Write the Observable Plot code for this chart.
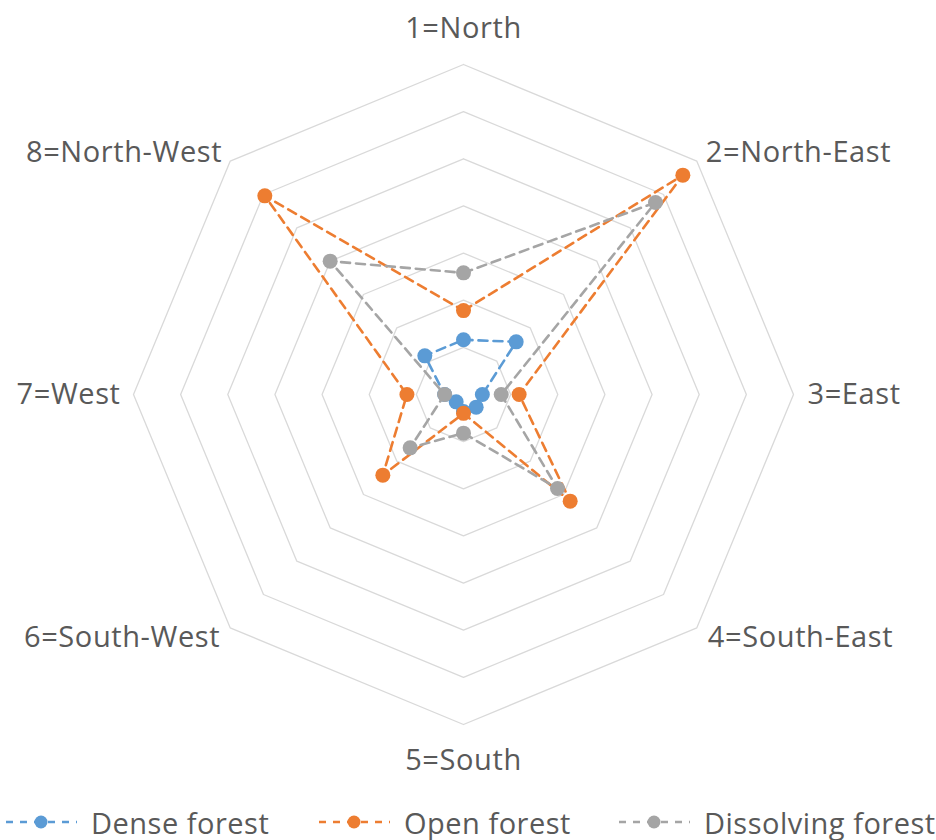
<!DOCTYPE html>
<html>
<head>
<meta charset="utf-8">
<script src="https://cdn.jsdelivr.net/npm/d3@7"></script>
<script src="https://cdn.jsdelivr.net/npm/@observablehq/plot@0.6"></script>
<style>
  html, body { margin: 0; padding: 0; background: #fff; }
  #wrap { position: relative; width: 936px; height: 840px; }
  #chart svg { display: block; }
  #legend { position: relative; width: 936px; height: 40px; font-family: "Open Sans", sans-serif; font-size: 29px; line-height: 1; letter-spacing: 0.5px; color: #595959; }
  .item { position: absolute; top: 0; height: 44px; display: flex; align-items: center; line-height: 1; }
  .item span { line-height: 1; display: block; }
  .item svg { margin-right: 14px; display: block; }
</style>
</head>
<body>
<div id="wrap">
  <div id="chart"></div>
  <div id="legend"></div>
</div>
<script>
const directions = ["1=North", "2=North-East", "3=East", "4=South-East", "5=South", "6=South-West", "7=West", "8=North-West"];
const seriesNames = ["Dense forest", "Open forest", "Dissolving forest"];
const dense = [5.8, 7.9, 2.0, 1.9, 1.8, 1.1, 2.0, 5.8];
const open = [8.9, 32.9, 5.9, 16.0, 2.0, 12.1, 6.0, 29.8];
const dissolving = [12.9, 28.8, 4.0, 14.1, 4.1, 8.0, 2.0, 20.0];
const rings = [5, 10, 15, 20, 25, 30, 35];
const colors = ["#5B9BD5", "#ED7D31", "#A5A5A5"];

const W = 936, H = 800;
const cx = 463, cy = 394, R = 330, rMax = 35;
const k = rMax / R;

const ang = i => i * Math.PI / 4;
const px = (r, i) => r * Math.sin(ang(i));
const py = (r, i) => r * Math.cos(ang(i));

// grid rings
const gridData = [];
rings.forEach(r => {
  for (let i = 0; i <= 8; i++) gridData.push({ring: r, x: px(r, i % 8), y: py(r, i % 8)});
});

const allSeries = [dense, open, dissolving];
const seriesData = allSeries.map((vals, s) => {
  const pts = vals.map((v, i) => ({series: seriesNames[s], x: px(v, i), y: py(v, i)}));
  return {line: pts.concat([pts[0]]), pts};
});

const labelData = directions.map((d, i) => ({label: d, x: px(rMax, i), y: py(rMax, i)}));
const labelStyle = [
  {anchor: "middle", dx: 0, dy: -36},
  {anchor: "start", dx: 9, dy: -8},
  {anchor: "start", dx: 14, dy: 0},
  {anchor: "start", dx: 11, dy: 10},
  {anchor: "middle", dx: 0, dy: 36},
  {anchor: "end", dx: -10, dy: 10},
  {anchor: "end", dx: -13, dy: 0},
  {anchor: "end", dx: -8, dy: -8}
];

const marks = [
  Plot.line(gridData, {x: "x", y: "y", z: "ring", stroke: "#d9d9d9", strokeWidth: 1.3})
];
seriesData.forEach((s, j) => {
  marks.push(Plot.line(s.line, {x: "x", y: "y", stroke: colors[j], strokeWidth: 2.6, strokeDasharray: "9,6"}));
  marks.push(Plot.dot(s.pts, {x: "x", y: "y", r: 7.5, fill: colors[j], stroke: "none"}));
});
labelData.forEach((d, i) => {
  const st = labelStyle[i];
  marks.push(Plot.text([d], {x: "x", y: "y", text: "label", textAnchor: st.anchor, dx: st.dx, dy: st.dy,
    fill: "#595959", fontSize: 29, fontFamily: "Open Sans", lineAnchor: "middle"}));
});

const chart = Plot.plot({
  width: W, height: H,
  margin: 0,
  x: {domain: [-cx * k, (W - cx) * k], axis: null},
  y: {domain: [(cy - H) * k, cy * k], axis: null},
  style: {background: "#fff", overflow: "visible"},
  marks
});
chart.querySelectorAll("text").forEach(t => t.style.letterSpacing = "0.6px");
document.getElementById("chart").appendChild(chart);

// legend
const legendLefts = [5, 318, 618];
const legend = document.getElementById("legend");
seriesNames.forEach((name, j) => {
  const item = document.createElement("div");
  item.className = "item";
  item.style.left = legendLefts[j] + "px";
  item.innerHTML = `<svg width="72" height="20"><line x1="1" y1="10" x2="72" y2="10" stroke="${colors[j]}" stroke-width="2.6" stroke-dasharray="7,7"/><circle cx="36" cy="10" r="6.5" fill="${colors[j]}"/></svg><span>${name}</span>`;
  legend.appendChild(item);
});
</script>
</body>
</html>
